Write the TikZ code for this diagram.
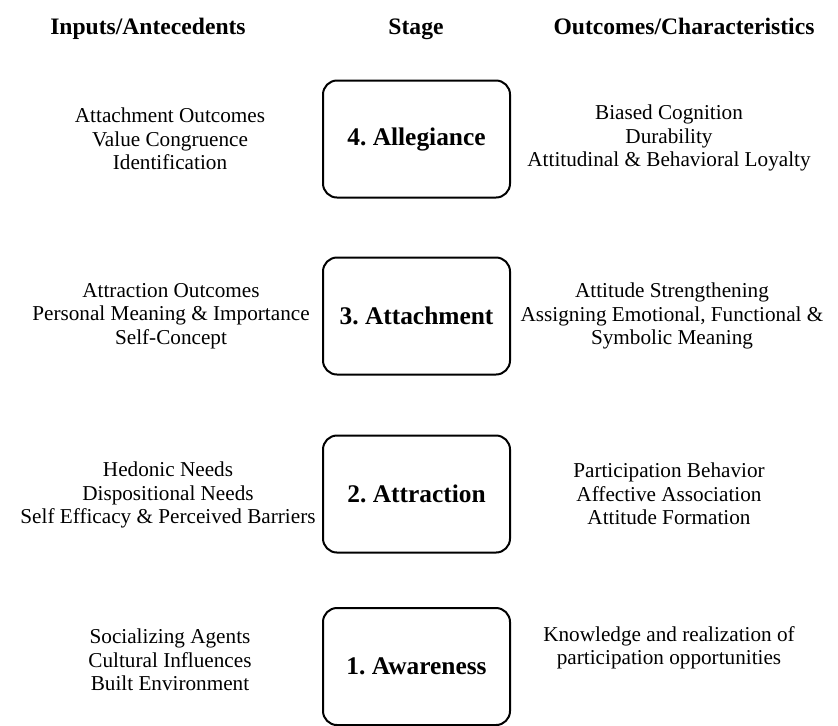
\documentclass[tikz,border=0pt]{standalone}
\usepackage{fontspec}
\setmainfont{Liberation Serif}
\frenchspacing
\begin{document}
\begin{tikzpicture}[x=0.5pt,y=-0.5pt,
    stagebox/.style={draw, line width=1pt, rounded corners=7pt,
      minimum width=93.5pt, minimum height=58.5pt,
      font=\bfseries\fontsize{12.7}{15}\selectfont},
    itemtext/.style={align=center, font=\fontsize{10.6}{11.75}\selectfont},
    headtext/.style={anchor=base, font=\bfseries\fontsize{11.8}{14}\selectfont}]
    \useasboundingbox (0,0) rectangle (838,725);
    % column heads
    \node[headtext] (hin) at (148,34) {Inputs/Antecedents};
    \node[headtext] (hstage) at (416,34) {Stage};
    \node[headtext] (hout) at (684,34) {Outcomes/Characteristics};
    % stage 4
    \node[stagebox] (s4) at (416.5,139) {4. Allegiance};
    \node[itemtext] (in4) at (170,139) {Attachment Outcomes\\Value Congruence\\Identification};
    \node[itemtext] (out4) at (669,138) {Biased Cognition\\Durability\\Attitudinal \& Behavioral Loyalty};
    % stage 3
    \node[stagebox] (s3) at (416.5,316) {3. Attachment};
    \node[itemtext] (in3) at (171,316) {Attraction Outcomes\\Personal Meaning \& Importance\\Self-Concept};
    \node[itemtext] (out3) at (672,316) {Attitude Strengthening\\Assigning Emotional, Functional \&\\Symbolic Meaning};
    % stage 2
    \node[stagebox] (s2) at (416.5,494) {2. Attraction};
    \node[itemtext] (in2) at (168,495) {Hedonic Needs\\Dispositional Needs\\Self Efficacy \& Perceived Barriers};
    \node[itemtext] (out2) at (669,494) {Participation Behavior\\Affective Association\\Attitude Formation};
    % stage 1
    \node[stagebox] (s1) at (416.5,666.5) {1. Awareness};
    \node[itemtext] (in1) at (170,660) {Socializing Agents\\Cultural Influences\\Built Environment};
    \node[itemtext] (out1) at (669,648) {Knowledge and realization of\\participation opportunities};
\end{tikzpicture}
\end{document}
